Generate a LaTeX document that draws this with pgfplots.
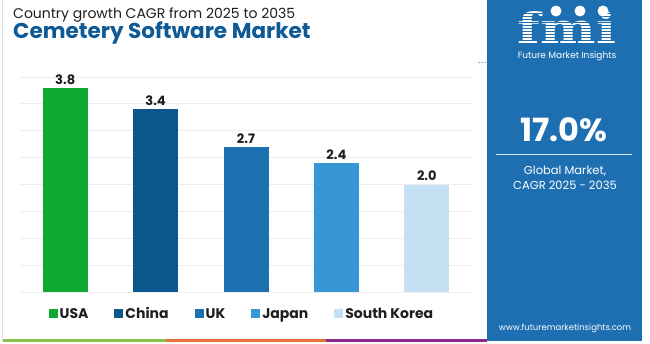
\documentclass[border=0pt]{standalone}
\usepackage{pgfplots}
\pgfplotsset{compat=1.18}
\usepackage{fontspec}
\setmainfont{Poppins}
\newfontfamily\logofont{DejaVu Serif}
\definecolor{usa}{RGB}{16,170,50}
\definecolor{china}{RGB}{11,86,140}
\definecolor{uk}{RGB}{28,114,176}
\definecolor{japan}{RGB}{55,151,214}
\definecolor{sk}{RGB}{197,224,242}
\definecolor{panel}{RGB}{30,111,178}
\definecolor{titleblue}{RGB}{14,90,150}
\definecolor{textdark}{RGB}{30,30,30}
\definecolor{gridc}{RGB}{236,236,236}
\definecolor{sgreen}{RGB}{139,195,74}
\definecolor{sorange}{RGB}{228,112,58}
\definecolor{spurple}{RGB}{142,42,142}
\begin{document}
\begin{tikzpicture}
\path[use as bounding box] (0pt,0pt) rectangle (650pt,343pt);
\fill[white] (0pt,0pt) rectangle (650pt,343pt);
\draw[gray!25, line width=0.8pt] (2pt,343pt) -- (2pt,2pt);
\node[anchor=west, font=\fontsize{14}{16}\selectfont, text=textdark, inner sep=0] at (13pt,328pt) {Country growth CAGR from 2025 to 2035};
\node[anchor=west, font=\fontsize{21.5}{24}\selectfont\bfseries, text=titleblue, inner sep=0] at (13pt,310pt) {Cemetery Software Market};
\begin{axis}[
  at={(20pt,51pt)}, anchor=south west,
  scale only axis, width=452pt, height=215pt,
  xmin=-0.5, xmax=4.5, ymin=0, ymax=4,
  axis line style={draw=none}, tick style={draw=none},
  xtick=\empty, ytick={0,0.5,...,4}, yticklabels={},
  ymajorgrids, grid style={gridc, line width=0.8pt},
  clip=false,
  legend columns=5,
  legend style={at={(0.491,-0.102)}, anchor=center, draw=none, fill=none,
    font=\fontsize{14}{16}\selectfont\bfseries, text=textdark,
    /tikz/every even column/.append style={column sep=24pt}},
  legend cell align=left,
  nodes near coords={\pgfmathprintnumber[fixed,fixed zerofill,precision=1,assume math mode=true]{\pgfplotspointmeta}},
  every node near coord/.append style={font=\fontsize{13}{15}\selectfont\bfseries, text=textdark, yshift=0pt},
]
\addplot[ybar, bar width=45pt, bar shift=0pt, fill=usa, draw=none,
  legend image code/.code={\fill[usa] (0pt,-4.5pt) rectangle (9pt,4.5pt);}] coordinates {(0,3.8)};
\addlegendentry{USA}
\addplot[ybar, bar width=45pt, bar shift=0pt, fill=china, draw=none,
  legend image code/.code={\fill[china] (0pt,-4.5pt) rectangle (9pt,4.5pt);}] coordinates {(1,3.4)};
\addlegendentry{China}
\addplot[ybar, bar width=45pt, bar shift=0pt, fill=uk, draw=none,
  legend image code/.code={\fill[uk] (0pt,-4.5pt) rectangle (9pt,4.5pt);}] coordinates {(2,2.7)};
\addlegendentry{UK}
\addplot[ybar, bar width=45pt, bar shift=0pt, fill=japan, draw=none,
  legend image code/.code={\fill[japan] (0pt,-4.5pt) rectangle (9pt,4.5pt);}] coordinates {(3,2.4)};
\addlegendentry{Japan}
\addplot[ybar, bar width=45pt, bar shift=0pt, fill=sk, draw=none,
  legend image code/.code={\fill[sk] (0pt,-4.5pt) rectangle (9pt,4.5pt);}] coordinates {(4,2.0)};
\addlegendentry{South Korea}
\end{axis}
% bottom stripes
\fill[sgreen] (3pt,1pt) rectangle (166pt,4pt);
\fill[sorange] (166pt,1pt) rectangle (326pt,4pt);
\fill[spurple] (326pt,1pt) rectangle (487pt,4pt);
% right panel
\fill[panel] (487pt,2pt) rectangle (642pt,343pt);
\draw[gray!70, line width=0.6pt, dash pattern=on 1.5pt off 1.5pt] (478pt,281pt) -- (487pt,281pt);
\node[text=white, font=\logofont\bfseries\fontsize{42}{42}\selectfont, inner sep=0, anchor=base, text depth=0pt, xscale=1.25] at (567pt,299pt) {fmi};
\foreach \yy in {300,303,...,330} {\draw[panel, line width=0.9pt] (505pt,\yy pt) -- (630pt,\yy pt);}
\fill[white] (556pt,332pt) circle (5.5pt);
\fill[white] (580pt,332pt) circle (5.5pt);
\fill[white] (603pt,332pt) circle (5.5pt);
\node[text=white, font=\fontsize{9}{10}\selectfont, inner sep=0] at (567pt,287pt) {Future Market Insights};
\node[text=white, font=\fontsize{32}{34}\selectfont\bfseries, inner sep=0] at (564pt,213pt) {17.0\%};
\draw[white!85!panel, line width=1pt] (496pt,188pt) -- (632pt,188pt);
\node[text=white, font=\fontsize{11.5}{13}\selectfont, inner sep=0] at (565pt,172pt) {Global Market,};
\node[text=white, font=\fontsize{11.5}{13}\selectfont, inner sep=0] at (565pt,158pt) {CAGR 2025 - 2035};
\node[text=white, font=\fontsize{8.5}{10}\selectfont, inner sep=0] at (565pt,15pt) {www.futuremarketinsights.com};
\end{tikzpicture}
\end{document}
